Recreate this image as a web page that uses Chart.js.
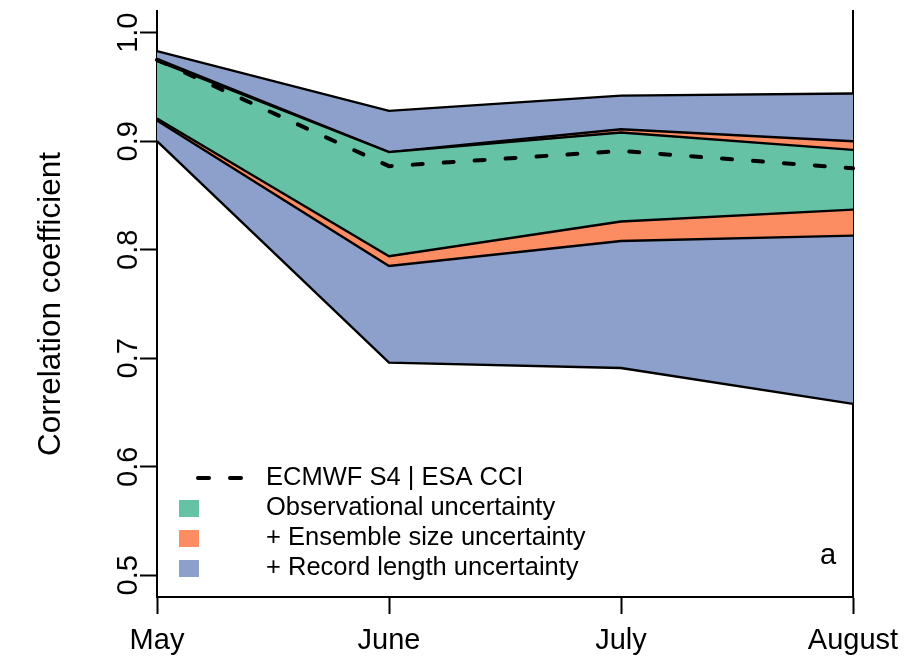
<!DOCTYPE html>
<html>
<head>
<meta charset="utf-8">
<title>Correlation coefficient by month</title>
<script src="https://cdn.jsdelivr.net/npm/chart.js@4.4.1/dist/chart.umd.min.js"></script>
<style>
  html, body { margin: 0; padding: 0; background: #ffffff; }
  #wrap { position: relative; width: 904px; height: 669px; }
  canvas { display: block; }
</style>
</head>
<body>
<div id="wrap"><canvas id="chart" width="904" height="669"></canvas></div>
<script>
// Forecast months (x axis)
const months = ['May', 'June', 'July', 'August'];

// Correlation of ECMWF S4 against ESA CCI
const s4cci = [0.975, 0.877, 0.891, 0.875];

// Observational uncertainty band
const obsUpper = [0.974, 0.890, 0.908, 0.892];
const obsLower = [0.921, 0.794, 0.826, 0.837];

// + Ensemble size uncertainty band
const ensUpper = [0.976, 0.890, 0.911, 0.900];
const ensLower = [0.919, 0.785, 0.808, 0.813];

// + Record length uncertainty band
const recUpper = [0.983, 0.928, 0.942, 0.944];
const recLower = [0.900, 0.696, 0.691, 0.658];

// Y axis ticks
const yTickValues = [0.5, 0.6, 0.7, 0.8, 0.9, 1.0];
const yTickLabels = ['0.5', '0.6', '0.7', '0.8', '0.9', '1.0'];

// Legend texts and panel tag
const lineLabel = 'ECMWF S4 | ESA CCI';
const bandLabels = ['Observational uncertainty', '+ Ensemble size uncertainty', '+ Record length uncertainty'];
const panelTag = 'a';

const GREEN = '#66C2A5';
const ORANGE = '#FC8D62';
const BLUE = '#8DA0CB';
const FONT = '"Liberation Sans", Arial, Helvetica, sans-serif';

Chart.defaults.font.family = FONT;
Chart.defaults.color = '#000';

function edge(data, label) {
  return { label, data, borderColor: '#000', borderWidth: 2.4, fill: false, pointRadius: 0, tension: 0 };
}
function band(data, label, color) {
  return { label, data, borderColor: '#000', borderWidth: 2.4, backgroundColor: color,
           fill: { target: '-1' }, pointRadius: 0, tension: 0 };
}

// Legend drawn inside the plot area, plus the panel letter
const insideLegend = {
  id: 'insideLegend',
  afterDatasetsDraw(chart) {
    const ctx = chart.ctx;
    const area = chart.chartArea;
    const x0 = area.left;
    const rowY = [478, 508, 538, 568];
    ctx.save();
    ctx.fillStyle = '#000';
    ctx.textAlign = 'left';
    ctx.textBaseline = 'middle';
    ctx.font = '25.5px ' + FONT;
    // dashed line key
    ctx.strokeStyle = '#000';
    ctx.lineWidth = 4;
    ctx.lineCap = 'round';
    ctx.setLineDash([11, 21]);
    ctx.beginPath();
    ctx.moveTo(x0 + 41, rowY[0]);
    ctx.lineTo(x0 + 94, rowY[0]);
    ctx.stroke();
    ctx.setLineDash([]);
    ctx.fillText(lineLabel, x0 + 109, rowY[0]);
    const colors = [GREEN, ORANGE, BLUE];
    bandLabels.forEach((t, i) => {
      ctx.fillStyle = colors[i];
      ctx.fillRect(x0 + 22, rowY[i + 1] - 8, 20, 17);
      ctx.fillStyle = '#000';
      ctx.fillText(t, x0 + 109, rowY[i + 1]);
    });
    ctx.font = '29px ' + FONT;
    ctx.textAlign = 'center';
    ctx.fillText(panelTag, area.right - 25, 556);
    ctx.restore();
  }
};

new Chart(document.getElementById('chart'), {
  type: 'line',
  data: {
    labels: months,
    datasets: [
      { label: lineLabel, data: s4cci, borderColor: '#000', borderWidth: 4, borderDash: [10, 21],
        borderCapStyle: 'round', fill: false, pointRadius: 0, tension: 0 },
      edge(obsUpper, 'obs upper'),
      band(obsLower, bandLabels[0], GREEN),
      edge(ensUpper, 'ens upper'),
      band(ensLower, bandLabels[1], ORANGE),
      edge(recUpper, 'rec upper'),
      band(recLower, bandLabels[2], BLUE)
    ]
  },
  options: {
    responsive: false,
    animation: false,
    layout: { padding: { top: 11, right: 51, left: 0, bottom: 0 } },
    plugins: {
      legend: { display: false },
      tooltip: { enabled: false },
      filler: { propagate: false }
    },
    scales: {
      x: {
        type: 'category',
        offset: false,
        grid: { drawOnChartArea: false, drawTicks: true, tickLength: 17, tickColor: '#000', tickWidth: 2 },
        border: { display: true, color: '#000', width: 2 },
        ticks: { color: '#000', font: { size: 29, lineHeight: 1.5 }, padding: 5, maxRotation: 0, autoSkip: false },
        afterFit(s) { s.height = 72; }
      },
      y: {
        min: 0.48,
        max: 1.02,
        afterBuildTicks(s) { s.ticks = yTickValues.map(v => ({ value: v })); },
        grid: { drawOnChartArea: false, drawTicks: true, tickLength: 17, tickColor: '#000', tickWidth: 2 },
        border: { display: true, color: '#000', width: 2 },
        ticks: {
          color: '#000', font: { size: 29 }, autoSkip: false,
          minRotation: 90, maxRotation: 90, crossAlign: 'center', padding: -9,
          callback(v, i) { return yTickLabels[i]; }
        },
        title: { display: true, text: 'Correlation coefficient', color: '#000',
                 font: { size: 31.5 }, padding: { top: 32, bottom: 0 } },
        afterFit(s) { s.width = 157; }
      },
      yR: {
        position: 'right',
        min: 0.48,
        max: 1.02,
        grid: { display: false },
        ticks: { display: false },
        border: { display: true, color: '#000', width: 2 },
        afterFit(s) { s.width = 0; }
      }
    }
  },
  plugins: [insideLegend]
});
</script>
</body>
</html>
